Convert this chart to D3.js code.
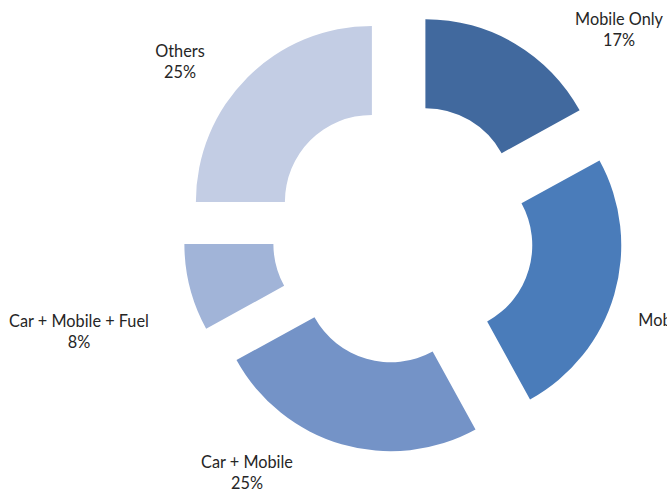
<!DOCTYPE html>
<html>
<head>
<meta charset="utf-8">
<script src="https://cdn.jsdelivr.net/npm/d3@7"></script>
<style>
html,body{margin:0;padding:0;background:#fff;overflow:hidden;}
svg{display:block;}
text{font-family:Lato,"Open Sans",sans-serif;font-size:16.3px;fill:#262626;}
</style>
</head>
<body>
<svg id="chart" width="667" height="493"></svg>
<script>
const categories = ["Mobile Only", "Mobile + Fuel", "Car + Mobile", "Car + Mobile + Fuel", "Others"];
const values = [17, 25, 25, 8, 25];
const colors = ["#41699e", "#4a7cba", "#7493c7", "#a1b4d8", "#c3cde4"];
// label anchor offsets (relative to chart centre), layout only
const labelOffsets = [[216, -204], [284, 97], [-156, 239], [-324, 98], [-223, -172]];

const W = 667, H = 493;
const cx = 403, cy = 233;
const innerR = 87, outerR = 176, explode = 44;

const svg = d3.select("#chart");
const g = svg.append("g").attr("transform", `translate(${cx},${cy})`);

const data = categories.map((c, i) => ({ name: c, value: values[i], color: colors[i] }));
const pie = d3.pie().value(d => d.value).sort(null);
const arc = d3.arc().innerRadius(innerR).outerRadius(outerR);
const arcs = pie(data);

g.selectAll("path.slice").data(arcs).enter().append("path")
  .attr("class", "slice")
  .attr("d", arc)
  .attr("fill", d => d.data.color)
  .attr("transform", d => {
    const a = (d.startAngle + d.endAngle) / 2;
    return `translate(${explode * Math.sin(a)},${-explode * Math.cos(a)})`;
  });

const total = d3.sum(values);
const lbl = g.selectAll("text.lbl").data(arcs).enter().append("text")
  .attr("class", "lbl")
  .attr("text-anchor", "middle")
  .attr("transform", (d, i) => `translate(${labelOffsets[i][0]},${labelOffsets[i][1]})`);
lbl.append("tspan").attr("x", 0).attr("dy", "-0.25em").text(d => d.data.name);
lbl.append("tspan").attr("x", 0).attr("dy", "1.3em").text(d => Math.round(d.data.value / total * 100) + "%");
</script>
</body>
</html>
